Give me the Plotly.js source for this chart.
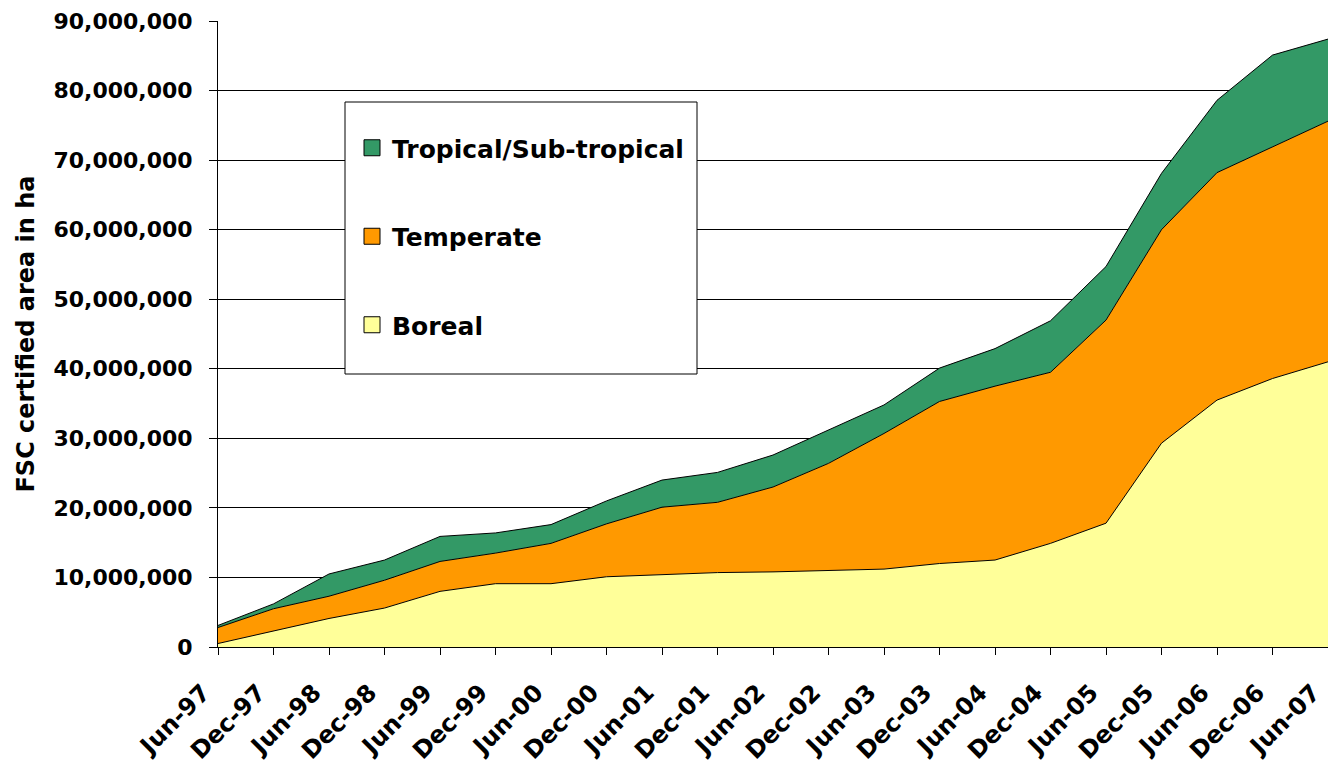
<!DOCTYPE html>
<html>
<head>
<meta charset="utf-8">
<script src="https://cdn.plot.ly/plotly-3.0.1.min.js"></script>
<style>html,body{margin:0;padding:0;background:#fff;}#chart{width:1328px;height:767px;}</style>
</head>
<body>
<div id="chart"></div>
<script>
// Categories (semi-annual)
const periods = ["Jun-97","Dec-97","Jun-98","Dec-98","Jun-99","Dec-99","Jun-00","Dec-00","Jun-01","Dec-01","Jun-02","Dec-02","Jun-03","Dec-03","Jun-04","Dec-04","Jun-05","Dec-05","Jun-06","Dec-06","Jun-07"];
// FSC certified area in ha (estimated from the chart)
const boreal    = [500000,2300000,4100000,5600000,8000000,9100000,9100000,10100000,10350000,10700000,10800000,11000000,11200000,12000000,12500000,14900000,17800000,29300000,35500000,38600000,41000000];
const temperate = [2300000,3200000,3200000,4000000,4300000,4400000,5800000,7600000,9750000,10100000,12200000,15400000,19500000,23300000,25000000,24600000,29200000,30700000,32700000,33300000,34600000];
const tropical  = [300000,700000,3200000,2900000,3600000,2900000,2700000,3300000,3900000,4300000,4600000,4800000,4100000,4800000,5400000,7400000,7700000,8100000,10400000,13200000,11800000];
const seriesNames = ["Boreal","Temperate","Tropical/Sub-tropical"];
const seriesColors = ["#FFFF99","#FF9900","#339966"];

const ys = [boreal, temperate, tropical];
const traces = [];
ys.forEach((y, i) => {
  traces.push({
    x: periods, y: y, type: "scatter", mode: "lines",
    stackgroup: "one", name: seriesNames[i],
    line: {color: "#000000", width: 1},
    fillcolor: seriesColors[i], showlegend: false, hoverinfo: "x+y+name"
  });
});
// legend entries (top to bottom: Tropical, Temperate, Boreal)
[2,1,0].forEach((i, k) => {
  traces.push({
    x: [null], y: [null], type: "scatter", mode: "markers",
    name: seriesNames[i], legendgroup: "g" + k,
    marker: {symbol: "square", size: 18, color: seriesColors[i], line: {color: "#000000", width: 1}}
  });
});

const font = "DejaVu Sans, Verdana, sans-serif";
const layout = {
  width: 1328, height: 767,
  margin: {l: 218, r: 0, t: 21, b: 120, pad: 0},
  paper_bgcolor: "#ffffff", plot_bgcolor: "#ffffff",
  font: {family: font, color: "#000000"},
  showlegend: true,
  legend: {
    x: (352 - 218) / 1110, y: 1 - (125 - 21) / 626, xanchor: "left", yanchor: "top",
    bgcolor: "rgba(0,0,0,0)", borderwidth: 0,
    font: {family: font, size: 25, color: "#000000", weight: "bold"},
    traceorder: "grouped", tracegroupgap: 53, itemsizing: "trace"
  },
  shapes: [{
    type: "rect", xref: "paper", yref: "paper",
    x0: (345 - 218) / 1110, x1: (697 - 218) / 1110,
    y0: 1 - (374 - 21) / 626, y1: 1 - (102 - 21) / 626,
    line: {color: "#000000", width: 1}, fillcolor: "#ffffff", layer: "above"
  }],
  xaxis: {
    type: "category", range: [0, 20],
    showgrid: false, zeroline: false,
    showline: true, linecolor: "#000000", linewidth: 1,
    ticks: "outside", ticklen: 7, tickcolor: "#000000", tickwidth: 1,
    tickangle: -45,
    ticklabelstandoff: 14, ticklabelshift: -15,
    tickfont: {family: font, size: 24, color: "#000000", weight: "bold"}
  },
  yaxis: {
    range: [0, 90000000], dtick: 10000000, tick0: 0,
    tickformat: ",d",
    showgrid: true, gridcolor: "#000000", gridwidth: 1,
    zeroline: false,
    showline: true, linecolor: "#000000", linewidth: 1,
    ticks: "outside", ticklen: 8, tickcolor: "#000000", tickwidth: 1,
    ticklabelstandoff: 12,
    tickfont: {family: font, size: 22, color: "#000000", weight: "bold"},
    title: {text: "FSC certified area in ha", standoff: 12,
            font: {family: font, size: 24, color: "#000000", weight: "bold"}}
  }
};
Plotly.newPlot("chart", traces, layout, {displayModeBar: false, staticPlot: true});
</script>
</body>
</html>
